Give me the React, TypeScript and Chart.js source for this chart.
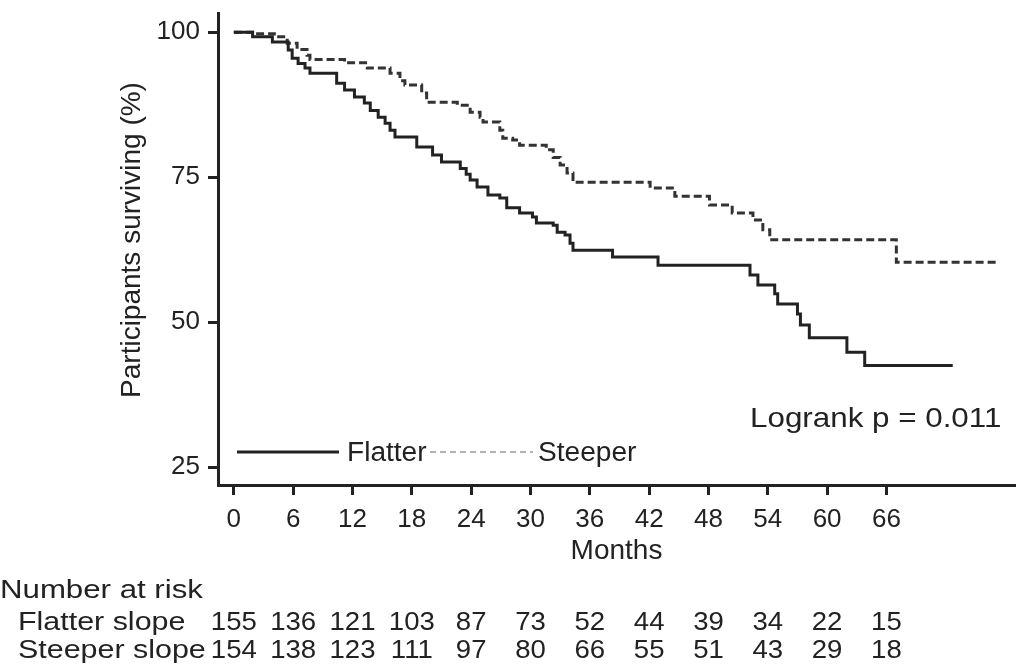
import React, { useEffect, useRef } from "react";
import { Chart, registerables } from "chart.js";

Chart.register(...registerables);

// Kaplan-Meier step data (months, % surviving)
const flatterMonths = [0, 1.9, 3.9, 5.5, 5.9, 6.5, 7.2, 7.7, 10.4, 11.2, 12.2, 13.2, 13.8, 14.6, 15.3, 15.8, 16.3, 18.5, 20.1, 21.0, 22.9, 23.5, 23.9, 24.6, 25.7, 26.9, 27.6, 28.9, 30.2, 30.6, 32.3, 32.7, 33.5, 34.0, 34.3, 38.3, 42.9, 52.2, 53.0, 54.7, 55.0, 57.0, 57.3, 58.2, 62.0, 63.8, 72.7];
const flatterSurv = [100, 99.2, 98.3, 96.9, 95.5, 94.6, 93.8, 92.9, 91.2, 90.0, 88.8, 87.8, 86.5, 85.3, 84.3, 83.1, 81.9, 80.2, 78.8, 77.6, 76.5, 75.5, 74.5, 73.3, 71.9, 71.4, 69.7, 68.8, 68.1, 67.1, 66.7, 65.5, 65.0, 63.6, 62.4, 61.2, 59.8, 58.1, 56.4, 54.9, 53.1, 51.4, 49.5, 47.3, 44.8, 42.5, 42.5];

const steeperMonths = [0, 1.9, 4.1, 5.4, 6.4, 7.4, 7.7, 11.2, 13.5, 15.8, 16.8, 17.3, 19.0, 19.5, 22.6, 23.9, 24.9, 25.2, 26.9, 27.2, 28.2, 28.9, 31.6, 32.3, 33.0, 33.7, 34.3, 42.1, 44.6, 48.1, 50.4, 52.5, 53.5, 54.2, 67.0, 77.2];
const steeperSurv = [100, 99.7, 99.2, 98.1, 97.0, 96.0, 95.3, 94.7, 93.8, 92.9, 91.6, 90.9, 89.5, 87.9, 87.4, 86.2, 85.3, 84.5, 83.1, 81.7, 81.4, 80.5, 79.7, 78.4, 77.1, 75.7, 74.1, 73.1, 71.7, 70.2, 68.8, 67.6, 65.9, 64.2, 60.3, 60.3];

const xTicks = [0, 6, 12, 18, 24, 30, 36, 42, 48, 54, 60, 66];
const yTicks = [25, 50, 75, 100];

const seriesNames = ["Flatter", "Steeper"];
const riskRowLabels = ["Flatter slope", "Steeper slope"];
const flatterRisk = [155, 136, 121, 103, 87, 73, 52, 44, 39, 34, 22, 15];
const steeperRisk = [154, 138, 123, 111, 97, 80, 66, 55, 51, 43, 29, 18];

const FONT = "'Liberation Sans', Arial, Helvetica, sans-serif";
const INK = "#222";

function stretchText(ctx: CanvasRenderingContext2D, text: string, x: number, y: number, sx: number) {
  ctx.save();
  ctx.translate(x, y);
  ctx.scale(sx, 1);
  ctx.fillText(text, 0, 0);
  ctx.restore();
}

const overlayPlugin = {
  id: "overlay",
  afterDraw(chart: any) {
    const ctx = chart.ctx as CanvasRenderingContext2D;
    const xs = chart.scales.x;
    const ys = chart.scales.y;
    ctx.save();
    ctx.fillStyle = INK;
    ctx.textBaseline = "middle";

    // y-axis title
    ctx.save();
    ctx.font = `28px ${FONT}`;
    ctx.textAlign = "center";
    ctx.translate(132, (ys.top + ys.bottom) / 2 - 9);
    ctx.rotate(-Math.PI / 2);
    ctx.fillText("Participants surviving (%)", 0, 0);
    ctx.restore();

    // legend inside the plot
    ctx.strokeStyle = INK;
    ctx.lineWidth = 3;
    ctx.setLineDash([]);
    ctx.beginPath();
    ctx.moveTo(237, 452);
    ctx.lineTo(339, 452);
    ctx.stroke();
    ctx.font = `27px ${FONT}`;
    ctx.textAlign = "left";
    stretchText(ctx, seriesNames[0], 347, 454, 1.04);
    ctx.strokeStyle = "#999";
    ctx.lineWidth = 1.5;
    ctx.setLineDash([6, 4]);
    ctx.beginPath();
    ctx.moveTo(430, 452);
    ctx.lineTo(533, 452);
    ctx.stroke();
    ctx.setLineDash([]);
    stretchText(ctx, seriesNames[1], 538, 454, 1.04);

    // logrank annotation
    ctx.font = `28px ${FONT}`;
    ctx.textAlign = "left";
    stretchText(ctx, "Logrank p = 0.011", 750, 419, 1.12);

    // number at risk table
    ctx.font = `26px ${FONT}`;
    ctx.textAlign = "left";
    stretchText(ctx, "Number at risk", 0, 591, 1.2);
    stretchText(ctx, riskRowLabels[0], 18, 623, 1.17);
    stretchText(ctx, riskRowLabels[1], 18, 651, 1.17);
    ctx.textAlign = "center";
    xTicks.forEach((m, i) => {
      const px = xs.getPixelForValue(m);
      stretchText(ctx, String(flatterRisk[i]), px, 623, 1.06);
      stretchText(ctx, String(steeperRisk[i]), px, 651, 1.06);
    });
    ctx.restore();
  },
};

export default function App() {
  const ref = useRef<HTMLCanvasElement | null>(null);

  useEffect(() => {
    if (!ref.current) return;
    const chart = new Chart(ref.current, {
      type: "line",
      data: {
        datasets: [
          {
            label: seriesNames[0],
            data: flatterMonths.map((m, i) => ({ x: m, y: flatterSurv[i] })),
            borderColor: INK,
            borderWidth: 3,
            pointRadius: 0,
            stepped: "before",
            fill: false,
          },
          {
            label: seriesNames[1],
            data: steeperMonths.map((m, i) => ({ x: m, y: steeperSurv[i] })),
            borderColor: "#333",
            borderWidth: 3,
            borderDash: [8, 4],
            pointRadius: 0,
            stepped: "before",
            fill: false,
          },
        ],
      },
      options: {
        responsive: false,
        animation: false,
        layout: { padding: { top: 13, right: 3, left: 0, bottom: 0 } },
        plugins: {
          legend: { display: false },
          tooltip: { enabled: false },
        },
        scales: {
          x: {
            type: "linear",
            min: -1.6,
            max: 79,
            afterBuildTicks: (s: any) => {
              s.ticks = xTicks.map((v) => ({ value: v }));
            },
            afterFit: (s: any) => {
              s.height = 179;
              s.paddingLeft = 0;
              s.paddingRight = 0;
            },
            grid: {
              display: true,
              drawOnChartArea: false,
              drawTicks: true,
              tickLength: 10,
              tickWidth: 3,
              tickColor: INK,
            },
            border: { display: true, color: INK, width: 3 },
            ticks: {
              autoSkip: false,
              maxRotation: 0,
              padding: 9,
              color: INK,
              font: { family: FONT, size: 26 },
            },
            title: {
              display: true,
              text: "Months",
              color: INK,
              font: { family: FONT, size: 28 },
              padding: { top: 0, bottom: 96 },
            },
          },
          y: {
            type: "linear",
            min: 21.9,
            max: 103.3,
            afterBuildTicks: (s: any) => {
              s.ticks = yTicks.map((v) => ({ value: v }));
            },
            afterFit: (s: any) => {
              s.width = 218;
              s.paddingTop = 0;
              s.paddingBottom = 0;
            },
            grid: {
              display: true,
              drawOnChartArea: false,
              drawTicks: true,
              tickLength: 10,
              tickWidth: 3,
              tickColor: INK,
            },
            border: { display: true, color: INK, width: 3 },
            ticks: {
              padding: 8,
              color: INK,
              font: { family: FONT, size: 26 },
            },
            title: { display: false },
          },
        },
      },
      plugins: [overlayPlugin],
    });
    return () => chart.destroy();
  }, []);

  return (
    <div style={{ position: "absolute", left: 0, top: 0, width: 1018, height: 664, background: "#fff" }}>
      <canvas ref={ref} width={1018} height={664} style={{ display: "block" }} />
    </div>
  );
}
